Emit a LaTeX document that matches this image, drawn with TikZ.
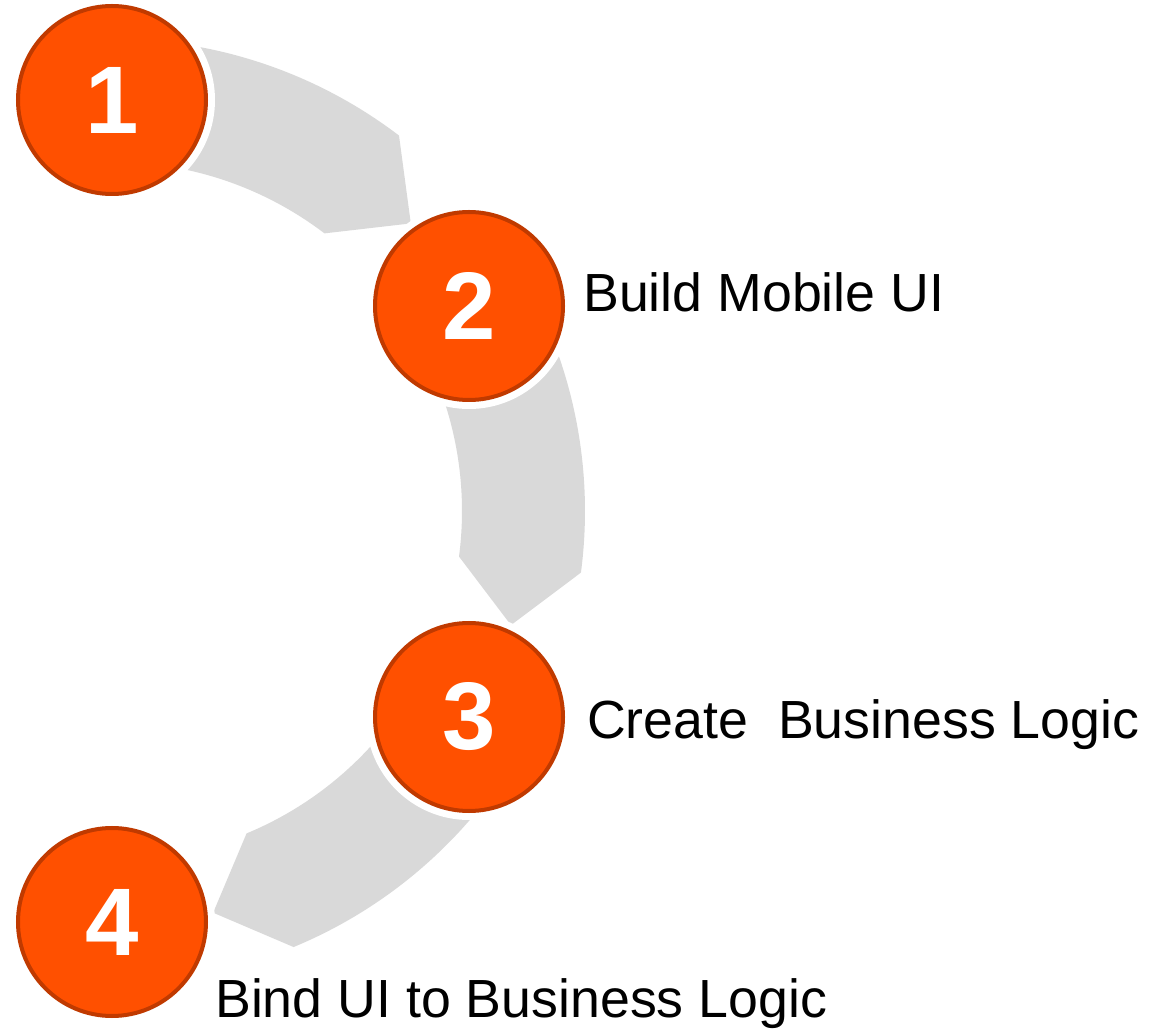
\documentclass[tikz,border=0pt]{standalone}
\usepackage{fontspec}
\setmainfont{Liberation Sans}
\definecolor{stepOrange}{RGB}{255,80,0}
\definecolor{stepBorder}{RGB}{192,58,0}
\definecolor{bandGray}{RGB}{217,217,217}
\begin{document}
\begin{tikzpicture}[x=1pt,y=1pt,
  stepcircle/.style={circle, draw=stepBorder, line width=4pt, fill=stepOrange,
    minimum size=188pt, inner sep=0pt, text=white,
    font=\fontsize{96}{96}\selectfont\bfseries,
    preaction={draw=white, line width=18pt}},
  band/.style={fill=bandGray, draw=none},
  steplabel/.style={anchor=base west, inner sep=0pt, text=black,
    font=\fontsize{53.7}{60}\selectfont}]
\useasboundingbox (0,0) rectangle (1157,1029);
\coordinate (C) at (113,518);
% curved arrows
\fill[band] ([shift={(90:472pt)}]C) arc[start angle=90,end angle=52.7,radius=472pt]
  -- ([shift={(44:414pt)}]C) -- ([shift={(52.7:349pt)}]C)
  arc[start angle=52.7,end angle=90,radius=349pt] -- cycle;
\fill[band] ([shift={(29.94:472pt)}]C) arc[start angle=29.94,end angle=-7.5,radius=472pt]
  -- ([shift={(-16:414pt)}]C) -- ([shift={(-7.5:349pt)}]C)
  arc[start angle=-7.5,end angle=29.94,radius=349pt] -- cycle;
\fill[band] ([shift={(-29.94:472pt)}]C) arc[start angle=-29.94,end angle=-67.5,radius=472pt]
  -- ([shift={(-76:414pt)}]C) -- ([shift={(-67.5:349pt)}]C)
  arc[start angle=-67.5,end angle=-29.94,radius=349pt] -- cycle;
% step circles
\node[stepcircle] (c1) at (112,929) {1};
\node[stepcircle] (c2) at (469,723) {2};
\node[stepcircle] (c3) at (469,312) {3};
\node[stepcircle] (c4) at (112,107) {4};
% labels
\node[steplabel] (t2) at (583,717) {Build Mobile UI};
\node[steplabel] (t3) at (587,290) {Create\ \ Business Logic};
\node[steplabel] (t4) at (215,12) {Bind UI to Business Logic};
\end{tikzpicture}
\end{document}
